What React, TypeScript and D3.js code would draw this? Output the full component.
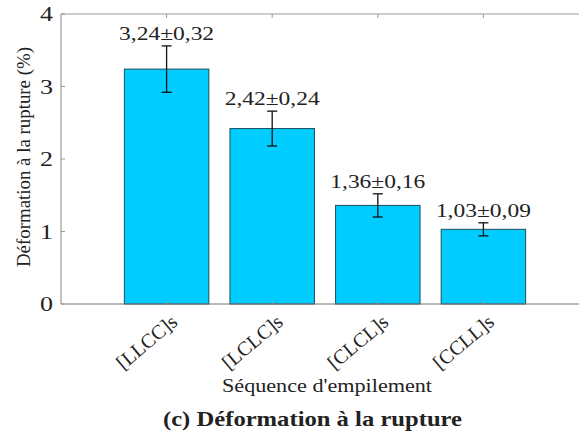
import React from "react";
import * as d3 from "d3";

const categories = ["[LLCC]s", "[LCLC]s", "[CLCL]s", "[CCLL]s"];
const means = [3.24, 2.42, 1.36, 1.03];
const errors = [0.32, 0.24, 0.16, 0.09];
const valueLabels = ["3,24±0,32", "2,42±0,24", "1,36±0,16", "1,03±0,09"];
const yTicks = [0, 1, 2, 3, 4];

const W = 579, H = 432;
const left = 61, top = 14, bottom = 304;
const F = "Liberation Serif";

export default function App() {
  const x = d3.scaleLinear().domain([0, 5]).range([left, 589]);
  const y = d3.scaleLinear().domain([0, 4]).range([bottom, top]);
  const bw = x(0.8) - x(0);
  return (
    <svg width={W} height={H} style={{ position: "absolute", left: 0, top: 0 }}>
      <rect width={W} height={H} fill="#fff" />
      {means.map((m, i) => {
        const cx = x(i + 1);
        return (
          <g key={i}>
            <rect x={cx - bw / 2} y={y(m)} width={bw} height={y(0) - y(m)} fill="#00ccff" stroke="#1b4f5c" strokeWidth={1} />
            <line x1={cx} x2={cx} y1={y(m - errors[i])} y2={y(m + errors[i])} stroke="#111" strokeWidth={1.3} />
            <line x1={cx - 5} x2={cx + 5} y1={y(m - errors[i])} y2={y(m - errors[i])} stroke="#111" strokeWidth={1.3} />
            <line x1={cx - 5} x2={cx + 5} y1={y(m + errors[i])} y2={y(m + errors[i])} stroke="#111" strokeWidth={1.3} />
            <text x={cx} y={y(m + errors[i]) - 6} textAnchor="middle" fontSize={18.5} fill="#222" fontFamily={F} textLength={95} lengthAdjust="spacingAndGlyphs">{valueLabels[i]}</text>
          </g>
        );
      })}
      <line x1={left} x2={W} y1={top} y2={top} stroke="#999" strokeWidth={1.2} />
      <line x1={left} x2={W} y1={bottom} y2={bottom} stroke="#777" strokeWidth={1.2} />
      <line x1={left} x2={left} y1={top} y2={bottom} stroke="#999" strokeWidth={1.2} />
      {yTicks.map((t) => (
        <g key={t}>
          <line x1={left} x2={left + 4} y1={y(t)} y2={y(t)} stroke="#999" />
          <text x={left - 8} y={y(t) + 7} textAnchor="end" fontSize={20} fill="#222" fontFamily={F} textLength={13} lengthAdjust="spacingAndGlyphs">{t}</text>
        </g>
      ))}
      {categories.map((c, i) => (
        <g key={c}>
          <line x1={x(i + 1)} x2={x(i + 1)} y1={top} y2={top + 4} stroke="#999" />
          <line x1={x(i + 1)} x2={x(i + 1)} y1={bottom} y2={bottom - 4} stroke="#999" />
          <text transform={`translate(${x(i + 1) + 12},${bottom + 20}) rotate(-40)`} textAnchor="end" fontSize={20} fill="#222" fontFamily={F}>{c}</text>
        </g>
      ))}
      <text transform={`translate(30,157) rotate(-90)`} textAnchor="middle" fontSize={19} fill="#222" fontFamily={F} textLength={220} lengthAdjust="spacingAndGlyphs">Déformation à la rupture (%)</text>
      <text x={327} y={392} textAnchor="middle" fontSize={18.5} fill="#222" fontFamily={F} textLength={210} lengthAdjust="spacingAndGlyphs">Séquence d'empilement</text>
      <text x={312.5} y={426} textAnchor="middle" fontSize={21} fontWeight="bold" fill="#222" fontFamily={F} textLength={299} lengthAdjust="spacingAndGlyphs">(c) Déformation à la rupture</text>
    </svg>
  );
}
